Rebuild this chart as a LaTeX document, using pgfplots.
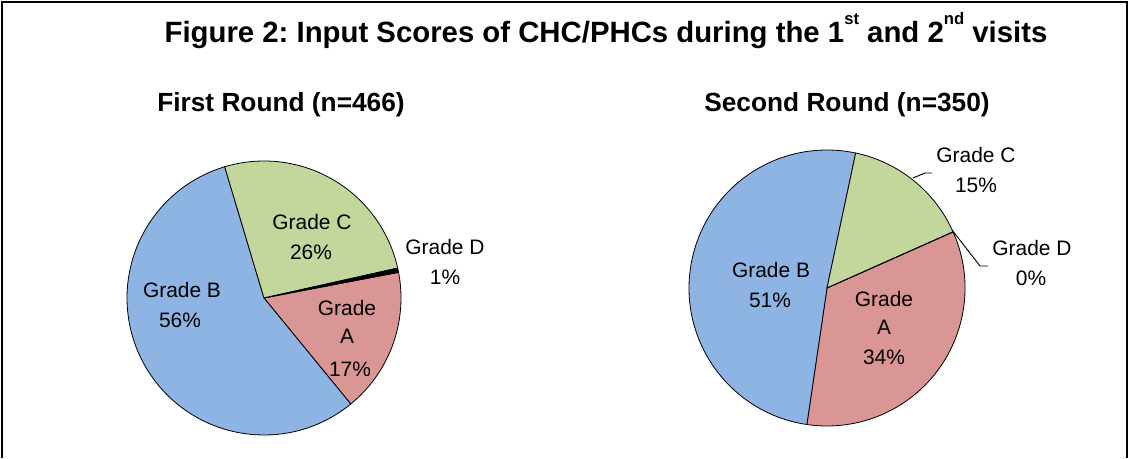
\documentclass[border=0pt]{standalone}
\usepackage{pgfplots}
\usepackage{pgfplotstable}
\pgfplotsset{compat=1.18}
\usepackage{fontspec}
\setmainfont{Liberation Sans}
\frenchspacing

\definecolor{gA}{RGB}{217,150,148}
\definecolor{gB}{RGB}{142,180,227}
\definecolor{gC}{RGB}{195,214,155}
\definecolor{gD}{RGB}{0,0,0}

% shares (%) of CHC/PHCs by grade, slices in order A, B, C, D (clockwise)
\pgfplotstableread{
grade share
A 17
B 56
C 26
D 0.5
}\firstround
\pgfplotstableread{
grade share
A 34
B 51
C 15
D 0
}\secondround

% compute start/end angles of the slices of a table
\newcommand\piesetup[3]{%
  \gdef\pietotal{0}%
  \foreach \i in {0,...,3}{%
    \pgfplotstablegetelem{\i}{share}\of#1%
    \pgfmathsetmacro\tmp{\pietotal+\pgfplotsretval}%
    \xdef\pietotal{\tmp}}%
  \xdef\pieang{#3}%
  \foreach \i in {0,...,3}{%
    \pgfplotstablegetelem{\i}{share}\of#1%
    \pgfmathsetmacro\tmp{\pieang-(\pgfplotsretval/\pietotal)*360}%
    \expandafter\xdef\csname #2s\i\endcsname{\pieang}%
    \expandafter\xdef\csname #2e\i\endcsname{\tmp}%
    \xdef\pieang{\tmp}}%
}
\newcommand\pS[2]{\csname #1s#2\endcsname}
\newcommand\pE[2]{\csname #1e#2\endcsname}
% slice: cx, cy, radius, prefix, index, colour
\newcommand\slice[6]{%
  \filldraw[fill=#6, draw=black, line width=0.6pt, line join=round]
    (axis cs:#1,#2) -- ++(\pS{#4}{#5}:#3)
    arc[start angle=\pS{#4}{#5}, end angle=\pE{#4}{#5}, radius=#3] -- cycle;}

\newcommand\lblfont{\fontsize{15.7}{22.5}\selectfont}
\newcommand\subfont{\fontsize{19.7}{24}\selectfont\bfseries}
\newcommand\titfont{\fontsize{22}{26}\selectfont\bfseries}
\newcommand\sups[1]{\raisebox{0.62em}{\fontsize{12.5}{13}\selectfont #1}}

\begin{document}
\begin{tikzpicture}
\piesetup{\firstround}{pa}{10.8}
\piesetup{\secondround}{pb}{24}
\begin{axis}[
  width=847.5pt, height=343.5pt, scale only axis,
  xmin=0, xmax=1130, ymin=0, ymax=458,
  hide axis, clip=false,
]
\path (axis cs:0,0) rectangle (axis cs:1130,458);
% frame
\draw[line width=1.5pt] (axis cs:2,0) -- (axis cs:2,456) -- (axis cs:1127,456) -- (axis cs:1127,0);

% first pie
\slice{264}{160}{102.75pt}{pa}{0}{gA}
\slice{264}{160}{102.75pt}{pa}{1}{gB}
\slice{264}{160}{102.75pt}{pa}{2}{gC}
\slice{264}{160}{102.75pt}{pa}{3}{gD}
% second pie
\slice{827}{170}{103.5pt}{pb}{0}{gA}
\slice{827}{170}{103.5pt}{pb}{1}{gB}
\slice{827}{170}{103.5pt}{pb}{2}{gC}
\slice{827}{170}{103.5pt}{pb}{3}{gD}

% leader lines
\draw[line width=0.7pt] (axis cs:913,280) -- (axis cs:925,285) -- (axis cs:932,285);
\draw[line width=0.7pt] (axis cs:952,228) -- (axis cs:980,192) -- (axis cs:988,192);

% titles
\node[anchor=base] at (axis cs:606,415) {\titfont Figure 2: Input Scores of CHC/PHCs during the 1\sups{st} and 2\sups{nd} visits};
\node[anchor=base] at (axis cs:281,346) {\subfont First Round (n=466)};
\node[anchor=base] at (axis cs:847,346) {\subfont Second Round (n=350)};

% labels first pie
\node[anchor=base] at (axis cs:312,228.5) {\lblfont Grade C};
\node[anchor=base] at (axis cs:311,198.5) {\lblfont 26\%};
\node[anchor=base] at (axis cs:182,160.5) {\lblfont Grade B};
\node[anchor=base] at (axis cs:180,130.5) {\lblfont 56\%};
\node[anchor=base] at (axis cs:347,142.5) {\lblfont Grade};
\node[anchor=base] at (axis cs:347,114.5) {\lblfont A};
\node[anchor=base] at (axis cs:350,81.5) {\lblfont 17\%};
\node[anchor=base] at (axis cs:445,203.5) {\lblfont Grade D};
\node[anchor=base] at (axis cs:445,173.5) {\lblfont 1\%};
% labels second pie
\node[anchor=base] at (axis cs:976,295.5) {\lblfont Grade C};
\node[anchor=base] at (axis cs:976,265.5) {\lblfont 15\%};
\node[anchor=base] at (axis cs:1032,202.5) {\lblfont Grade D};
\node[anchor=base] at (axis cs:1031,172.5) {\lblfont 0\%};
\node[anchor=base] at (axis cs:771,180.5) {\lblfont Grade B};
\node[anchor=base] at (axis cs:770,150.5) {\lblfont 51\%};
\node[anchor=base] at (axis cs:884,151.5) {\lblfont Grade};
\node[anchor=base] at (axis cs:884,123.5) {\lblfont A};
\node[anchor=base] at (axis cs:884,93.5) {\lblfont 34\%};
\end{axis}
\end{tikzpicture}
\end{document}
